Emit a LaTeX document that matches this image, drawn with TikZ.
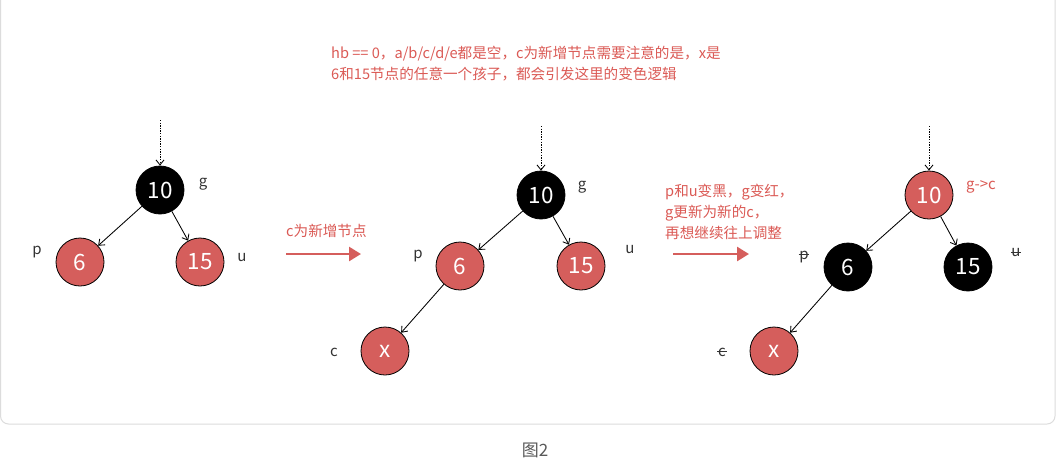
\documentclass[tikz,border=0pt]{standalone}
\usepackage{fontspec}
\setmainfont{Noto Sans CJK SC}
\usetikzlibrary{arrows.meta}
\definecolor{rbred}{HTML}{D55E5C}
\definecolor{txtred}{HTML}{DB5A55}
\definecolor{lblgray}{HTML}{333333}
\definecolor{panelline}{HTML}{DCDCDC}
\tikzset{
  nd/.style={circle,draw=black,line width=0.8pt,minimum size=48pt,inner sep=0pt,text=white,font=\fontsize{22.5}{24}\selectfont},
  rn/.style={nd,fill=rbred},
  bn/.style={nd,fill=black},
  edge/.style={draw=black,line width=0.85pt,-{Straight Barb[length=5pt,width=8pt]}},
  topin/.style={draw=black,line width=0.85pt,dash pattern=on 1.3pt off 1.3pt,-{Straight Barb[length=5pt,width=8pt]}},
  bigarrow/.style={draw=rbred,line width=2.6pt,-{Triangle[length=12pt,width=14pt]}},
  lbl/.style={text=lblgray,font=\fontsize{15}{18}\selectfont,inner sep=0pt},
  rtxt/.style={text=txtred,font=\fontsize{14.6}{21}\selectfont,inner sep=0pt,align=left},
  strike/.style={draw=lblgray,line width=0.7pt}
}
\begin{document}
\begin{tikzpicture}[x=1pt,y=-1pt]
\useasboundingbox (0,0) rectangle (1059,464);
\fill[white] (0,0) rectangle (1059,464);
% panel
\draw[panelline,line width=1pt,rounded corners=8pt] (0.5,-20) -- (0.5,424) -- (1055,424) -- (1055,-20);
% top text
\node[rtxt,anchor=north west] (top) at (331,46) {hb == 0，a/b/c/d/e都是空，c为新增节点需要注意的是，x是\\6和15节点的任意一个孩子，都会引发这里的变色逻辑};
% tree 1
\node[bn] (r1) at (160,190) {10};
\node[rn] (a1) at (80,262) {6};
\node[rn] (b1) at (200,262) {15};
\coordinate (t1) at (160,120);
\draw[topin] (t1) -- (r1);
\draw[edge] (r1) -- (a1);
\draw[edge] (r1) -- (b1);
\node[lbl] (g1) at (203,184) {g};
\node[lbl] (p1) at (37,252) {p};
\node[lbl] (u1) at (242,258) {u};
% arrow 1
\coordinate (s1) at (286,254);
\coordinate (e1) at (361,254);
\draw[bigarrow] (s1) -- (e1);
\node[rtxt,anchor=base west] (m1) at (286,236) {c为新增节点};
% tree 2
\node[bn] (r2) at (541,195) {10};
\node[rn] (a2) at (460,266) {6};
\node[rn] (b2) at (581,266) {15};
\node[rn] (c2) at (385,351) {x};
\coordinate (t2) at (541,126);
\draw[topin] (t2) -- (r2);
\draw[edge] (r2) -- (a2);
\draw[edge] (r2) -- (b2);
\draw[edge] (a2) -- (c2);
\node[lbl] (g2) at (582,187) {g};
\node[lbl] (p2) at (418,256) {p};
\node[lbl] (u2) at (630,250) {u};
\node[lbl] (cc2) at (334,352) {c};
% arrow 2
\coordinate (s2) at (673,254);
\coordinate (e2) at (749,254);
\draw[bigarrow] (s2) -- (e2);
\node[rtxt,anchor=north west] (m2) at (665,184) {p和u变黑，g变红，\\g更新为新的c，\\再想继续往上调整};
% tree 3
\node[rn] (r3) at (929,195) {10};
\node[bn] (a3) at (848,267) {6};
\node[bn] (b3) at (968,267) {15};
\node[rn] (c3) at (774,351) {x};
\coordinate (t3) at (929,126);
\draw[topin] (t3) -- (r3);
\draw[edge] (r3) -- (a3);
\draw[edge] (r3) -- (b3);
\draw[edge] (a3) -- (c3);
\node[lbl,text=txtred] (g3) at (981,187) {g->c};
\node[lbl] (p3) at (804,257) {p};
\node[lbl] (u3) at (1016,253) {u};
\node[lbl] (cc3) at (722,352) {c};
\draw[strike] ([xshift=-0.5pt,yshift=5pt]p3.base west) -- ([xshift=0.5pt,yshift=5pt]p3.base east);
\draw[strike] ([xshift=-0.5pt,yshift=5pt]u3.base west) -- ([xshift=0.5pt,yshift=5pt]u3.base east);
\draw[strike] ([xshift=-0.5pt,yshift=5pt]cc3.base west) -- ([xshift=0.5pt,yshift=5pt]cc3.base east);
% caption
\node[text=black!65,font=\fontsize{17}{20}\selectfont,inner sep=0pt] (cap) at (535,450) {图2};
\end{tikzpicture}
\end{document}
